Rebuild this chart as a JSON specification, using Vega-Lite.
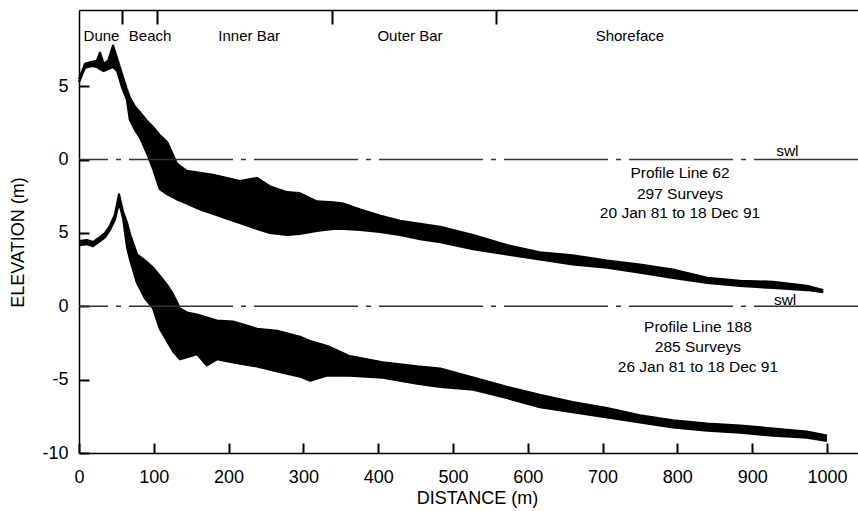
{
  "$schema": "https://vega.github.io/schema/vega-lite/v6.json",
  "width": 779,
  "height": 443,
  "autosize": {"type": "none"},
  "padding": {"left": 79, "top": 10, "right": 0, "bottom": 58},
  "background": "white",
  "config": {
    "view": {"stroke": null},
    "font": "Liberation Sans",
    "axis": {
      "domainColor": "black", "domainWidth": 1.5, "tickColor": "black", "tickWidth": 2,
      "grid": false, "labelColor": "black", "titleColor": "black", "labelFont": "Liberation Sans",
      "titleFont": "Liberation Sans", "labelFontSize": 18, "titleFontSize": 18, "titleFontWeight": "normal",
      "labelFlush": false
    },
    "text": {"font": "Liberation Sans", "color": "black"}
  },
  "datasets": {
    "p62": [
      {"d": 0, "hi": 5.49, "lo": 5.28}, {"d": 8, "hi": 6.53, "lo": 6.25}, {"d": 17, "hi": 6.67, "lo": 6.39},
      {"d": 24, "hi": 6.74, "lo": 6.32}, {"d": 28, "hi": 7.29, "lo": 6.18}, {"d": 33, "hi": 6.53, "lo": 6.04},
      {"d": 39, "hi": 6.74, "lo": 6.18}, {"d": 45.5, "hi": 7.78, "lo": 6.32}, {"d": 51, "hi": 6.88, "lo": 6.04},
      {"d": 57.5, "hi": 5.83, "lo": 4.93}, {"d": 64, "hi": 4.79, "lo": 4.1}, {"d": 68, "hi": 4.24, "lo": 2.71},
      {"d": 75, "hi": 3.61, "lo": 2.01}, {"d": 82, "hi": 3.19, "lo": 1.46}, {"d": 91, "hi": 2.64, "lo": 0.42},
      {"d": 99, "hi": 2.22, "lo": -0.63}, {"d": 108, "hi": 1.67, "lo": -2.01}, {"d": 118, "hi": 1.18, "lo": -2.36},
      {"d": 131, "hi": -0.28, "lo": -2.71}, {"d": 144, "hi": -0.76, "lo": -2.99}, {"d": 162, "hi": -0.9, "lo": -3.4},
      {"d": 179, "hi": -1.04, "lo": -3.68}, {"d": 198, "hi": -1.25, "lo": -4.03}, {"d": 215, "hi": -1.46, "lo": -4.31},
      {"d": 238, "hi": -1.25, "lo": -4.72}, {"d": 255, "hi": -1.81, "lo": -5.0}, {"d": 278, "hi": -2.22, "lo": -5.14},
      {"d": 295, "hi": -2.29, "lo": -5.07}, {"d": 318, "hi": -2.85, "lo": -4.86}, {"d": 340, "hi": -2.92, "lo": -4.72},
      {"d": 353, "hi": -2.99, "lo": -4.72}, {"d": 376, "hi": -3.4, "lo": -4.79}, {"d": 402, "hi": -3.82, "lo": -4.93},
      {"d": 429, "hi": -4.17, "lo": -5.14}, {"d": 456, "hi": -4.38, "lo": -5.42}, {"d": 483, "hi": -4.58, "lo": -5.63},
      {"d": 527, "hi": -5.14, "lo": -6.11}, {"d": 572, "hi": -5.83, "lo": -6.46}, {"d": 616, "hi": -6.32, "lo": -6.81},
      {"d": 660, "hi": -6.53, "lo": -7.15}, {"d": 706, "hi": -6.88, "lo": -7.36}, {"d": 750, "hi": -7.15, "lo": -7.71},
      {"d": 794, "hi": -7.5, "lo": -8.06}, {"d": 840, "hi": -8.06, "lo": -8.4}, {"d": 884, "hi": -8.26, "lo": -8.61},
      {"d": 928, "hi": -8.33, "lo": -8.75}, {"d": 973, "hi": -8.61, "lo": -8.89}, {"d": 995, "hi": -8.89, "lo": -9.03}
    ],
    "p188": [
      {"d": 0, "hi": 4.44, "lo": 4.17}, {"d": 10.7, "hi": 4.51, "lo": 4.24}, {"d": 18.7, "hi": 4.38, "lo": 4.1},
      {"d": 28, "hi": 4.72, "lo": 4.44}, {"d": 35, "hi": 5.0, "lo": 4.72}, {"d": 41.4, "hi": 5.49, "lo": 5.21},
      {"d": 48, "hi": 6.25, "lo": 5.9}, {"d": 53.5, "hi": 7.64, "lo": 7.08}, {"d": 58.8, "hi": 6.46, "lo": 6.04},
      {"d": 64.2, "hi": 5.69, "lo": 4.03}, {"d": 68.2, "hi": 4.93, "lo": 3.19}, {"d": 77.5, "hi": 3.54, "lo": 1.6},
      {"d": 88, "hi": 3.13, "lo": 0.56}, {"d": 99, "hi": 2.64, "lo": -0.14}, {"d": 108, "hi": 2.08, "lo": -1.53},
      {"d": 117.6, "hi": 1.46, "lo": -2.36}, {"d": 125.7, "hi": 0.83, "lo": -3.06}, {"d": 135, "hi": -0.14, "lo": -3.61},
      {"d": 144.4, "hi": -0.42, "lo": -3.47}, {"d": 157.8, "hi": -0.56, "lo": -3.26}, {"d": 171, "hi": -0.76, "lo": -4.03},
      {"d": 184.5, "hi": -0.97, "lo": -3.61}, {"d": 206, "hi": -1.04, "lo": -3.82}, {"d": 238, "hi": -1.53, "lo": -4.1},
      {"d": 265, "hi": -1.67, "lo": -4.44}, {"d": 295.5, "hi": -2.08, "lo": -4.79}, {"d": 309, "hi": -2.36, "lo": -5.07},
      {"d": 332, "hi": -2.71, "lo": -4.72}, {"d": 362, "hi": -3.4, "lo": -4.72}, {"d": 406, "hi": -3.82, "lo": -4.86},
      {"d": 452, "hi": -4.1, "lo": -5.28}, {"d": 483, "hi": -4.24, "lo": -5.49}, {"d": 527, "hi": -4.86, "lo": -5.69},
      {"d": 572, "hi": -5.49, "lo": -6.25}, {"d": 616, "hi": -6.04, "lo": -6.88}, {"d": 660, "hi": -6.53, "lo": -7.22},
      {"d": 706, "hi": -6.94, "lo": -7.57}, {"d": 750, "hi": -7.43, "lo": -7.92}, {"d": 794, "hi": -7.78, "lo": -8.26},
      {"d": 840, "hi": -7.99, "lo": -8.47}, {"d": 884, "hi": -8.13, "lo": -8.61}, {"d": 928, "hi": -8.33, "lo": -8.82},
      {"d": 973, "hi": -8.54, "lo": -8.96}, {"d": 1000, "hi": -8.82, "lo": -9.17}
    ],
    "t62": [
      {"d": 803.5, "e": -0.93, "t": "Profile Line 62"},
      {"d": 803.5, "e": -2.33, "t": "297 Surveys"},
      {"d": 803.5, "e": -3.67, "t": "20 Jan 81 to 18 Dec 91"},
      {"d": 947, "e": 0.62, "t": "swl"}
    ],
    "t188": [
      {"d": 827.5, "e": -1.39, "t": "Profile Line 188"},
      {"d": 827.5, "e": -2.75, "t": "285 Surveys"},
      {"d": 827.5, "e": -4.12, "t": "26 Jan 81 to 18 Dec 91"},
      {"d": 944, "e": 0.46, "t": "swl"}
    ],
    "zones": [
      {"d": 30.1, "e": 18.43, "t": "Dune"},
      {"d": 95, "e": 18.43, "t": "Beach"},
      {"d": 227.5, "e": 18.43, "t": "Inner Bar"},
      {"d": 442.5, "e": 18.43, "t": "Outer Bar"},
      {"d": 736.5, "e": 18.43, "t": "Shoreface"}
    ],
    "swl": [{"e": 0}]
  },
  "layer": [
    {
      "layer": [
        {
          "data": {"name": "p62"},
          "mark": {"type": "area", "color": "black"},
          "encoding": {
            "x": {"field": "d", "type": "quantitative", "scale": {"domain": [0, 1041.5], "nice": false, "zero": false},
              "axis": {"orient": "top", "values": [57, 104, 338, 557.5], "tickSize": -14, "labels": false, "title": null}},
            "y": {"field": "hi", "type": "quantitative", "scale": {"domain": [-20, 10.2], "nice": false, "zero": false}, "axis": null},
            "y2": {"field": "lo"}
          }
        },
        {
          "data": {"name": "p62"},
          "mark": {"type": "line", "color": "black", "strokeWidth": 2.2, "strokeJoin": "round"},
          "encoding": {
            "x": {"field": "d", "type": "quantitative", "scale": {"domain": [0, 1041.5], "nice": false, "zero": false},
              "axis": {"orient": "top", "values": [57, 104, 338, 557.5], "tickSize": -14, "labels": false, "title": null}},
            "y": {"field": "hi", "type": "quantitative", "scale": {"domain": [-20, 10.2], "nice": false, "zero": false}, "axis": null}
          }
        },
        {
          "data": {"name": "p62"},
          "mark": {"type": "line", "color": "black", "strokeWidth": 2.2, "strokeJoin": "round"},
          "encoding": {
            "x": {"field": "d", "type": "quantitative", "scale": {"domain": [0, 1041.5], "nice": false, "zero": false},
              "axis": {"orient": "top", "values": [57, 104, 338, 557.5], "tickSize": -14, "labels": false, "title": null}},
            "y": {"field": "lo", "type": "quantitative", "scale": {"domain": [-20, 10.2], "nice": false, "zero": false}, "axis": null}
          }
        },
        {
          "data": {"name": "swl"},
          "mark": {"type": "rule", "color": "#333", "strokeWidth": 1.5, "strokeDash": [104, 8, 5, 8]},
          "encoding": {
            "y": {"field": "e", "type": "quantitative", "scale": {"domain": [-20, 10.2], "nice": false, "zero": false}, "axis": null}
          }
        },
        {
          "data": {"name": "t62"},
          "mark": {"type": "text", "fontSize": 15.5, "baseline": "middle", "align": "center"},
          "encoding": {
            "x": {"field": "d", "type": "quantitative", "scale": {"domain": [0, 1041.5], "nice": false, "zero": false},
              "axis": {"orient": "top", "values": [57, 104, 338, 557.5], "tickSize": -14, "labels": false, "title": null}},
            "y": {"field": "e", "type": "quantitative", "scale": {"domain": [-20, 10.2], "nice": false, "zero": false}, "axis": null},
            "text": {"field": "t"}
          }
        }
      ]
    },
    {
      "layer": [
        {
          "data": {"name": "p188"},
          "mark": {"type": "area", "color": "black"},
          "encoding": {
            "x": {"field": "d", "type": "quantitative", "scale": {"domain": [0, 1041.5], "nice": false, "zero": false},
              "axis": {"orient": "bottom", "values": [0, 100, 200, 300, 400, 500, 600, 700, 800, 900, 1000], "format": "d", "tickSize": -10, "labelPadding": 25,
                "title": "DISTANCE (m)", "titleX": 398, "titleY": 45, "titleBaseline": "middle", "titleAlign": "center"}},
            "y": {"field": "hi", "type": "quantitative", "scale": {"domain": [-10, 20.2], "nice": false, "zero": false},
              "axis": {"orient": "left", "values": [-10, -5, 0, 5, 10, 15], "tickSize": -10, "labelPadding": 21,
                "labelExpr": "datum.value >= 10 ? format(datum.value - 10, 'd') : (datum.value < 0 ? '-' + format(-datum.value, 'd') : format(datum.value, 'd'))",
                "title": "ELEVATION (m)", "titleX": -61, "titleY": 232, "titleBaseline": "middle", "titleAlign": "center", "titleAngle": -90}},
            "y2": {"field": "lo"}
          }
        },
        {
          "data": {"name": "p188"},
          "mark": {"type": "line", "color": "black", "strokeWidth": 2.2, "strokeJoin": "round"},
          "encoding": {
            "x": {"field": "d", "type": "quantitative"},
            "y": {"field": "hi", "type": "quantitative"}
          }
        },
        {
          "data": {"name": "p188"},
          "mark": {"type": "line", "color": "black", "strokeWidth": 2.2, "strokeJoin": "round"},
          "encoding": {
            "x": {"field": "d", "type": "quantitative"},
            "y": {"field": "lo", "type": "quantitative"}
          }
        },
        {
          "data": {"name": "swl"},
          "mark": {"type": "rule", "color": "#333", "strokeWidth": 1.5, "strokeDash": [104, 8, 5, 8]},
          "encoding": {
            "y": {"field": "e", "type": "quantitative"}
          }
        },
        {
          "data": {"name": "t188"},
          "mark": {"type": "text", "fontSize": 15.5, "baseline": "middle", "align": "center"},
          "encoding": {
            "x": {"field": "d", "type": "quantitative"},
            "y": {"field": "e", "type": "quantitative"},
            "text": {"field": "t"}
          }
        },
        {
          "data": {"name": "zones"},
          "mark": {"type": "text", "fontSize": 15, "baseline": "middle", "align": "center"},
          "encoding": {
            "x": {"field": "d", "type": "quantitative"},
            "y": {"field": "e", "type": "quantitative"},
            "text": {"field": "t"}
          }
        }
      ]
    }
  ],
  "resolve": {"scale": {"y": "independent"}, "axis": {"x": "independent", "y": "independent"}}
}
